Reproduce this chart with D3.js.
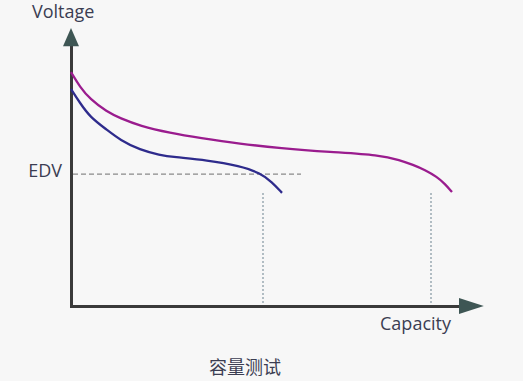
<!DOCTYPE html>
<html>
<head>
<meta charset="utf-8">
<script src="https://cdn.jsdelivr.net/npm/d3@7"></script>
<style>
  html, body { margin: 0; padding: 0; background: #f7f7f7; }
  svg { display: block; font-family: "Open Sans", "Noto Sans", sans-serif; }
</style>
</head>
<body>
<div id="chart"></div>
<script>
// Capacity (x) vs voltage (y), arbitrary units
const highCapacity = [0, 2.25, 4.75, 9, 12.25, 17.25, 24.75, 32.25, 42.25, 52.25, 64.75, 77.25, 82.25, 85.5, 88.5, 91.5, 93.5, 95.25];
const highVoltage  = [83.5, 78.2, 73.9, 69.3, 67.1, 64.3, 61.8, 60, 57.9, 56.4, 55, 53.9, 52.1, 50.4, 48.6, 46.1, 43.6, 40.7];
const lowCapacity  = [0, 2.25, 4.75, 9, 12.25, 17.25, 22.25, 25.5, 34, 42.25, 47.25, 50.25, 52.75];
const lowVoltage   = [77.5, 72.5, 67.5, 62.9, 59.3, 55.7, 53.9, 53.2, 52.1, 50, 47.5, 44.3, 40.4];
const edv = 47.1;
const edvEnd = 57.5;
const cutoffs = [48, 90];
const cutoffTop = 40.4;

const width = 523, height = 381;
const margin = { left: 71, bottom: 75, top: 26 };

const svg = d3.select("#chart")
    .append("svg")
    .attr("width", width)
    .attr("height", height);

svg.append("rect")
    .attr("width", width)
    .attr("height", height)
    .attr("fill", "#f7f7f7");

const x = d3.scaleLinear().domain([0, 100]).range([margin.left, margin.left + 400]);
const y = d3.scaleLinear().domain([0, 100]).range([height - margin.bottom, height - margin.bottom - 280]);

// axes without ticks, arrow heads added by hand
svg.append("g")
    .attr("transform", `translate(0,${y(0)})`)
    .call(d3.axisBottom(x.copy().domain([0, 98]).range([x(0) - 1.5, x(98)])).tickValues([]).tickSizeOuter(0));
svg.append("g")
    .attr("transform", `translate(${x(0)},0)`)
    .call(d3.axisLeft(y.copy().domain([-0.5, 93.5]).range([y(-0.5), y(93.5)])).tickValues([]).tickSizeOuter(0));
svg.selectAll(".domain")
    .attr("stroke", "#3a3a3a")
    .attr("stroke-width", 3);

const arrow = "#3e5654";
svg.append("path")
    .attr("d", `M${x(97)},${y(0) - 8}L${x(103.2)},${y(0)}L${x(97)},${y(0) + 8}Z`)
    .attr("fill", arrow);
svg.append("path")
    .attr("d", `M${x(0) - 8},${y(92.8)}L${x(0)},${y(99.3)}L${x(0) + 8},${y(92.8)}Z`)
    .attr("fill", arrow);

// EDV reference line
svg.append("line")
    .attr("x1", x(0.5)).attr("x2", x(edvEnd))
    .attr("y1", y(edv)).attr("y2", y(edv))
    .attr("stroke", "#8a8a8a")
    .attr("stroke-width", 1.2)
    .attr("stroke-dasharray", "5,3");

// capacity cut-off markers
svg.selectAll(".cutoff")
    .data(cutoffs)
    .join("line")
    .attr("class", "cutoff")
    .attr("x1", d => x(d)).attr("x2", d => x(d))
    .attr("y1", y(cutoffTop)).attr("y2", y(1))
    .attr("stroke", "#8d9ea8")
    .attr("stroke-width", 1.3)
    .attr("stroke-dasharray", "2,2");

const line = d3.line()
    .x(d => x(d[0]))
    .y(d => y(d[1]))
    .curve(d3.curveBasis);

svg.append("path")
    .datum(d3.zip(highCapacity, highVoltage))
    .attr("d", line)
    .attr("fill", "none")
    .attr("stroke", "#9a1c8e")
    .attr("stroke-width", 2.3);

svg.append("path")
    .datum(d3.zip(lowCapacity, lowVoltage))
    .attr("d", line)
    .attr("fill", "none")
    .attr("stroke", "#2e2b8c")
    .attr("stroke-width", 2.3);

// labels
const textColor = "#3b3d52";
svg.append("text")
    .attr("x", 32).attr("y", 18)
    .attr("fill", textColor)
    .style("font-size", "18px")
    .text("Voltage");

svg.append("text")
    .attr("x", 62).attr("y", 177)
    .attr("text-anchor", "end")
    .attr("fill", textColor)
    .style("font-size", "18px")
    .text("EDV");

svg.append("text")
    .attr("x", 451).attr("y", 330)
    .attr("text-anchor", "end")
    .attr("fill", textColor)
    .style("font-size", "18px")
    .text("Capacity");

svg.append("text")
    .attr("x", 245).attr("y", 374)
    .attr("text-anchor", "middle")
    .attr("fill", textColor)
    .style("font-family", "'Noto Sans CJK SC', sans-serif")
    .style("font-size", "18px")
    .text("容量测试");
</script>
</body>
</html>
